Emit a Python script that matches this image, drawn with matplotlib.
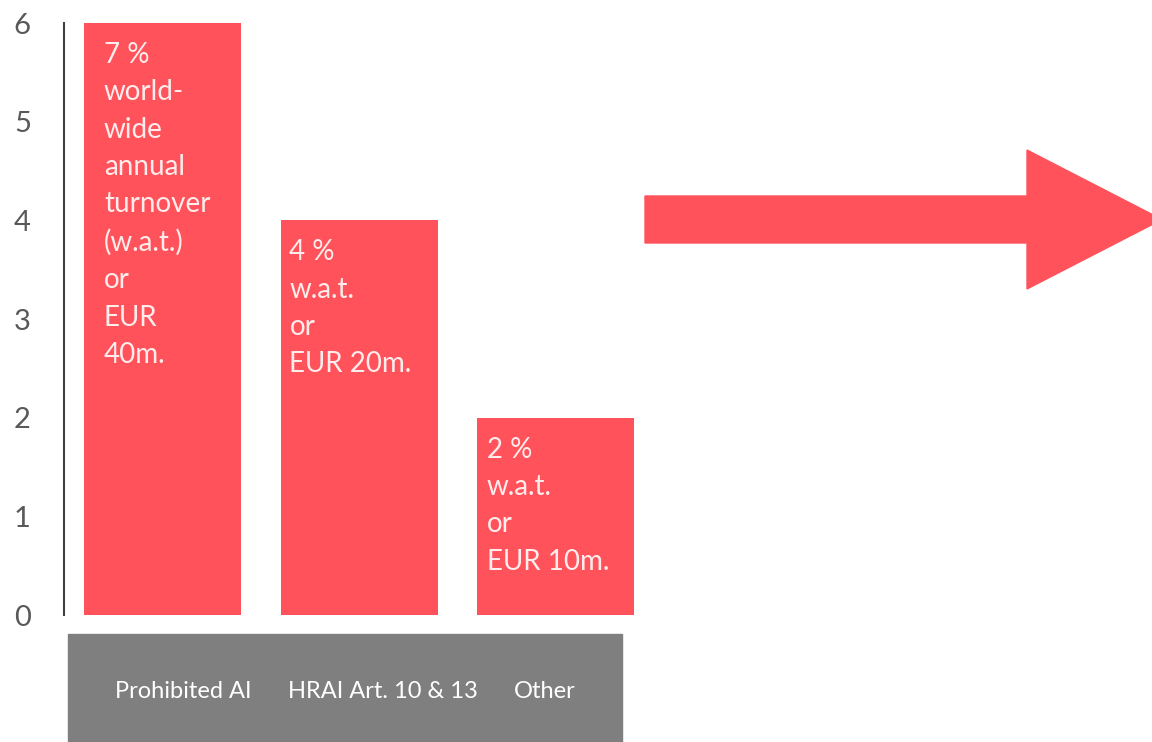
import matplotlib.pyplot as plt
from matplotlib.patches import Polygon, Rectangle

categories = ['Prohibited AI', 'HRAI Art. 10 & 13', 'Other']
values = [6, 4, 2]
bar_texts = [
    '7 %\nworld-\nwide\nannual\nturnover\n(w.a.t.)\nor\nEUR\n40m.',
    '4 %\nw.a.t.\nor\nEUR 20m.',
    '2 %\nw.a.t.\nor\nEUR 10m.',
]
yticks = [0, 1, 2, 3, 4, 5, 6]

RED = '#FF525B'
GRAY = '#7F7F7F'
plt.rcParams['font.family'] = ['Lato', 'DejaVu Sans']

W, H = 1152, 742
fig = plt.figure(figsize=(W / 100, H / 100), dpi=100)

# axes: left at x=64 px, y=0 at 615 px, y=6 at 23 px
x_per = 196.5
x0_px = 162.5
left_px, right_px = 64, W
ax = fig.add_axes([left_px / W, (H - 615) / H, (right_px - left_px) / W, (615 - 23) / H])
ax.set_xlim((left_px - x0_px) / x_per, (right_px - x0_px) / x_per)
ax.set_ylim(0, 6)

x = list(range(len(categories)))
ax.bar(x, values, width=157 / x_per, color=RED, zorder=2)

offsets = [20, 9, 10]
for xi, v, t, off in zip(x, values, bar_texts, offsets):
    ax.annotate(t, xy=(xi - 0.4, v), xytext=(off * 0.72, -19 * 0.72),
                textcoords='offset points', ha='left', va='top',
                color='#FFECEC', fontsize=20, linespacing=1.54)

for s in ['top', 'right', 'bottom']:
    ax.spines[s].set_visible(False)
ax.spines['left'].set_color('#404040')
ax.spines['left'].set_linewidth(1.5)
ax.set_xticks([])
ax.set_yticks(yticks)
ax.tick_params(axis='y', length=0, pad=30, labelsize=21, labelcolor='#595959')
for lab in ax.get_yticklabels():
    lab.set_horizontalalignment('center')

# grey category box
fig.patches.append(Rectangle((68 / W, 0), (622 - 68) / W, (H - 634) / H,
                             transform=fig.transFigure, color=GRAY, zorder=1))
label_x = [183, 383, 545]
for lx, c in zip(label_x, categories):
    fig.text(lx / W, (H - 692) / H, c, ha='center', va='center',
             color='white', fontsize=17)

# big arrow
pts = [(645, 196), (1027, 196), (1027, 150), (1162, 219.5),
       (1027, 289), (1027, 243), (645, 243)]
fig.patches.append(Polygon([(px / W, (H - py) / H) for px, py in pts],
                           closed=True, transform=fig.transFigure,
                           color=RED, zorder=1))

fig.savefig('out.png', dpi=100)
